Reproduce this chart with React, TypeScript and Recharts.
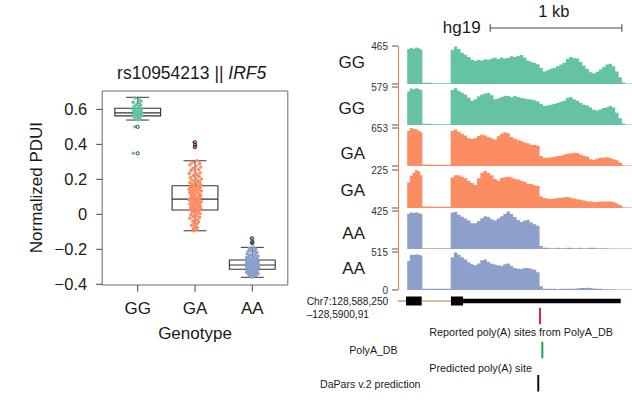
import React from 'react';
import {
  ComposedChart,
  AreaChart,
  Area,
  Scatter,
  Line,
  XAxis,
  YAxis,
  ReferenceArea,
  ReferenceLine,
} from 'recharts';

const FONT = '"Liberation Sans", Arial, Helvetica, sans-serif';
const INK = '#1a1a1a';

// ---- left panel: normalized PDUI by genotype ----
const GENOTYPES = ['GG', 'GA', 'AA'];
const GENO_COLORS = ['#66c2a5', '#fc8d62', '#8da0cb'];
const PDUI_TICKS = [-0.4, -0.2, 0, 0.2, 0.4, 0.6];

// [lower whisker, q1, median, q3, upper whisker]
const BOX_STATS = [
  [0.539, 0.563, 0.58, 0.606, 0.669],
  [-0.094, 0.025, 0.087, 0.163, 0.306],
  [-0.36, -0.314, -0.29, -0.261, -0.189],
];

const OUTLIERS = [
  [0.5, 0.349],
  [0.412, 0.398, 0.384],
  [-0.137, -0.157, -0.166],
];

// [jitter, PDUI]
const GG_POINTS = [
  [-0.04, 0.665], [0.02, 0.655], [0.06, 0.648], [-0.08, 0.64], [0.03, 0.635], [-0.02, 0.628],
  [0.05, 0.622], [-0.06, 0.618], [0.01, 0.612], [0.04, 0.607], [-0.09, 0.603], [0.03, 0.6],
  [-0.03, 0.597], [0.06, 0.593], [-0.07, 0.59], [0.0, 0.587], [0.05, 0.584], [-0.05, 0.581],
  [0.07, 0.578], [-0.01, 0.575], [0.03, 0.572], [-0.08, 0.569], [0.06, 0.566], [-0.04, 0.563],
  [0.02, 0.559], [-0.06, 0.555], [0.04, 0.549], [-0.02, 0.544], [0.01, 0.54], [-0.05, 0.5],
  [-0.077, 0.349],
];

const GA_POINTS = [
  [-0.02, 0.412], [0.01, 0.398], [-0.01, 0.384],
  [0.03, 0.306], [-0.05, 0.298], [0.08, 0.291], [-0.09, 0.284], [0.02, 0.277], [0.1, 0.27],
  [-0.04, 0.264], [0.06, 0.256], [-0.07, 0.25], [0.0, 0.244], [0.09, 0.238], [-0.1, 0.233],
  [0.04, 0.227], [-0.03, 0.222], [0.07, 0.216], [-0.08, 0.211], [0.01, 0.207], [0.11, 0.202],
  [-0.06, 0.198], [0.05, 0.193], [-0.01, 0.189], [0.08, 0.185], [-0.09, 0.181], [0.03, 0.177],
  [-0.05, 0.173], [0.1, 0.169],
  [-0.02, 0.164], [0.06, 0.161], [-0.08, 0.158], [0.02, 0.155], [0.09, 0.152], [-0.04, 0.149],
  [0.04, 0.146], [-0.1, 0.143], [0.07, 0.14], [-0.01, 0.137], [0.11, 0.134], [-0.06, 0.131],
  [0.03, 0.128], [-0.09, 0.125], [0.05, 0.122], [-0.03, 0.119], [0.08, 0.116], [-0.07, 0.113],
  [0.0, 0.11], [0.1, 0.107], [-0.05, 0.104], [0.06, 0.101], [-0.02, 0.098], [0.09, 0.095],
  [-0.08, 0.092],
  [0.02, 0.089], [-0.04, 0.086], [0.07, 0.083], [-0.1, 0.08], [0.04, 0.078], [-0.01, 0.075],
  [0.11, 0.072], [-0.06, 0.07], [0.01, 0.067], [0.08, 0.064], [-0.03, 0.062], [0.05, 0.059],
  [-0.09, 0.057], [0.03, 0.054], [-0.05, 0.051], [0.09, 0.049], [-0.02, 0.046], [0.06, 0.043],
  [-0.07, 0.041], [0.0, 0.038], [0.1, 0.035], [-0.04, 0.033], [0.04, 0.03], [-0.08, 0.027],
  [0.02, 0.023], [0.07, 0.019], [-0.05, 0.015], [0.05, 0.011], [-0.01, 0.007], [0.09, 0.003],
  [-0.07, -0.002], [0.03, -0.007], [-0.03, -0.012], [0.08, -0.017], [-0.09, -0.022], [0.01, -0.027],
  [0.05, -0.033], [-0.04, -0.038], [0.06, -0.044], [-0.02, -0.05], [0.03, -0.056], [-0.06, -0.062],
  [0.0, -0.068], [0.04, -0.075], [-0.03, -0.081], [0.02, -0.087], [-0.01, -0.094],
];

const AA_POINTS = [
  [-0.02, -0.137], [0.01, -0.157], [-0.01, -0.166],
  [0.02, -0.189], [-0.05, -0.194], [0.06, -0.199], [-0.03, -0.204], [0.04, -0.209], [-0.07, -0.213],
  [0.08, -0.218], [0.0, -0.222], [-0.09, -0.226], [0.05, -0.23], [-0.04, -0.234], [0.1, -0.238],
  [-0.06, -0.241], [0.03, -0.245], [-0.1, -0.248], [0.07, -0.251], [-0.02, -0.254], [0.09, -0.256],
  [-0.08, -0.258], [0.01, -0.26],
  [0.05, -0.262], [-0.05, -0.263], [0.11, -0.265], [-0.01, -0.266], [0.07, -0.268], [-0.09, -0.269],
  [0.03, -0.271], [-0.06, -0.272], [0.09, -0.274], [-0.03, -0.275], [0.0, -0.277], [-0.1, -0.278],
  [0.06, -0.28], [-0.04, -0.281], [0.1, -0.282], [-0.07, -0.284], [0.02, -0.285], [-0.02, -0.286],
  [0.08, -0.287], [-0.11, -0.288], [0.04, -0.289],
  [-0.05, -0.29], [0.06, -0.291], [-0.01, -0.292], [0.1, -0.293], [-0.08, -0.294], [0.02, -0.295],
  [-0.03, -0.296], [0.07, -0.297], [-0.1, -0.298], [0.04, -0.299], [-0.06, -0.3], [0.09, -0.301],
  [0.0, -0.302], [-0.04, -0.303], [0.05, -0.304], [-0.09, -0.305], [0.11, -0.306], [-0.02, -0.307],
  [0.03, -0.308], [-0.07, -0.309], [0.08, -0.31], [-0.05, -0.311], [0.01, -0.312], [0.06, -0.313],
  [-0.03, -0.315], [0.04, -0.317], [-0.08, -0.319], [0.09, -0.321], [-0.01, -0.323], [0.05, -0.325],
  [-0.06, -0.327], [0.02, -0.329], [-0.1, -0.331], [0.07, -0.333], [-0.04, -0.335], [0.0, -0.337],
  [0.1, -0.339], [-0.07, -0.341], [0.03, -0.344], [-0.02, -0.347], [0.06, -0.35], [-0.05, -0.353],
  [0.01, -0.356], [-0.01, -0.36],
];

const GENO_POINTS = [GG_POINTS, GA_POINTS, AA_POINTS];

// ---- right panel: RNA-seq coverage tracks (% of each track's scale) ----
const REGION_BP = 1841;
const TRACK_LABELS = ['GG', 'GG', 'GA', 'GA', 'AA', 'AA'];
const TRACK_MAX = [465, 579, 653, 225, 425, 515];
const TRACK_COLORS = ['#66c2a5', '#66c2a5', '#fc8d62', '#fc8d62', '#8da0cb', '#8da0cb'];

const POS = [
  0, 70, 90, 110, 130, 150, 170, 185, 260, 330,
  400, 425, 450, 475, 500, 525, 550, 575, 600, 625, 650, 675, 700, 725, 750, 775, 800, 825,
  850, 875, 900, 925, 950, 975, 1000, 1025, 1050, 1075, 1100, 1125, 1150, 1175, 1200, 1225,
  1250, 1275, 1300, 1325, 1350, 1375, 1400, 1425, 1450, 1475, 1500, 1525, 1550, 1575, 1600,
  1625, 1650, 1675, 1700, 1725, 1775, 1841,
];

const GG1_COV = [
  0, 92, 95, 93, 96, 94, 91, 3, 2, 2,
  90, 99, 92, 82, 77, 71, 64, 61, 63, 62, 65, 64, 67, 69, 66, 70, 67, 69, 73, 71,
  74, 76, 70, 62, 58, 55, 52, 42, 33, 36, 40, 42, 47, 51, 56, 66, 71, 68, 67, 58,
  48, 40, 31, 28, 32, 38, 45, 51, 53, 47, 33, 18, 4,
  1, 1, 0,
];
const GG2_COV = [
  0, 88, 96, 94, 97, 95, 92, 3, 2, 2,
  92, 97, 90, 85, 80, 72, 64, 68, 75, 80, 83, 84, 78, 68, 70, 74, 77, 76, 73, 76,
  74, 71, 70, 68, 67, 65, 62, 55, 50, 51, 53, 55, 58, 61, 64, 71, 74, 68, 64, 58,
  53, 51, 46, 40, 38, 41, 45, 47, 50, 46, 32, 18, 4,
  1, 1, 0,
];
const GA1_COV = [
  0, 92, 100, 98, 97, 92, 89, 4, 3, 3,
  92, 96, 90, 85, 80, 73, 71, 74, 79, 83, 80, 76, 73, 70, 78, 85, 89, 86, 76, 72,
  68, 66, 62, 60, 56, 55, 53, 26, 22, 22, 23, 24, 26, 27, 30, 32, 33, 35, 34, 30,
  27, 25, 18, 16, 20, 22, 22, 23, 21, 18, 15, 9, 2,
  1, 1, 0,
];
const GA2_COV = [
  0, 68, 85, 93, 100, 97, 86, 4, 3, 3,
  80, 86, 86, 82, 78, 72, 66, 61, 78, 93, 98, 92, 86, 76, 72, 79, 81, 82, 80, 77,
  75, 72, 69, 64, 63, 60, 58, 30, 26, 25, 24, 25, 26, 27, 28, 29, 27, 25, 23, 22,
  20, 18, 17, 16, 16, 17, 17, 17, 17, 16, 12, 8, 2,
  1, 1, 0,
];
const AA1_COV = [
  0, 93, 96, 95, 97, 94, 92, 2, 2, 2,
  96, 98, 90, 85, 80, 75, 68, 68, 74, 81, 86, 84, 78, 75, 80, 86, 93, 99, 92, 84,
  76, 71, 75, 77, 70, 65, 61, 8, 3, 3, 2, 2, 3, 2, 2, 3, 3, 2, 2, 3,
  2, 2, 3, 3, 2, 2, 2, 2, 1, 1, 1, 1, 1,
  1, 1, 0,
];
const AA2_COV = [
  0, 76, 93, 92, 94, 93, 91, 3, 3, 3,
  86, 99, 93, 86, 80, 73, 68, 65, 70, 78, 80, 74, 69, 67, 65, 64, 68, 70, 63, 58,
  56, 55, 58, 58, 56, 53, 47, 10, 3, 3, 3, 3, 2, 3, 3, 3, 3, 3, 4, 5,
  5, 6, 5, 4, 3, 3, 2, 2, 2, 2, 1, 1, 1,
  1, 1, 0,
];
const COVERAGE = [GG1_COV, GG2_COV, GA1_COV, GA2_COV, AA1_COV, AA2_COV];

// ---- gene model and poly(A) annotations (bp from region start) ----
const GENE_LEADER = [0, 61];
const GENE_EXONS = [[61, 180], [402, 494]];
const GENE_INTRON = [180, 402];
const GENE_UTR = [494, 1691];
const SCALE_BAR = [700, 1700];
const POLYA_SITES = [
  { track: 'reported', bp: 1078, color: '#d7263d' },
  { track: 'polyadb', bp: 1096, color: '#22a24a' },
  { track: 'dapars', bp: 1065, color: '#111111' },
];

// layout
const TRACK_TOP = 46;
const TRACK_STEP = 41.2;
const TRACK_H = 38;
const TRACK_LEFT = 398;
const BP_PX = 0.1317;
const ANNOT_TOP = 290;
const ANNOT_ROWS: Record<string, number> = { gene: 11, reported: 26, polyadb: 60, dapars: 93.3 };

const trackRows = POS.map((bp, j) => {
  const row: Record<string, number> = { bp };
  COVERAGE.forEach((cov, i) => {
    row['t' + i] = cov[j];
  });
  return row;
});

const fmtPdui = (v: number) => {
  if (v === 0) return '0';
  const s = Math.abs(v).toFixed(1);
  return v < 0 ? '\u2212' + s : s;
};

function BoxPanel() {
  return (
    <ComposedChart width={300} height={340} margin={{ top: 91, right: 12.2, bottom: 25, left: 42.2 }}>
      <XAxis
        type="number"
        dataKey="x"
        domain={[0.38, 3.62]}
        allowDataOverflow
        ticks={[1, 2, 3]}
        interval={0}
        tickFormatter={(v) => GENOTYPES[v - 1]}
        axisLine={false}
        tickLine={{ stroke: '#444' }}
        tickSize={6.7}
        tickMargin={10}
        height={30}
        tick={{ fontSize: 17, fill: INK, fontFamily: FONT }}
      />
      <YAxis
        type="number"
        dataKey="y"
        domain={[-0.404, 0.705]}
        allowDataOverflow
        ticks={PDUI_TICKS}
        interval={0}
        tickFormatter={fmtPdui}
        axisLine={false}
        tickLine={{ stroke: '#444' }}
        tickSize={6}
        tickMargin={9}
        width={60}
        tick={{ fontSize: 16.5, fill: INK, fontFamily: FONT }}
      />
      <ReferenceArea x1={0.38} x2={3.62} y1={-0.404} y2={0.705} fill="none" stroke="#6b6b6b" strokeWidth={1} ifOverflow="visible" />
      {BOX_STATS.map(([lo, q1, med, q3, hi], i) => {
        const g = i + 1;
        return (
          <React.Fragment key={GENOTYPES[i]}>
            <ReferenceLine segment={[{ x: g, y: lo }, { x: g, y: q1 }]} stroke="#333" strokeWidth={1} ifOverflow="visible" />
            <ReferenceLine segment={[{ x: g, y: q3 }, { x: g, y: hi }]} stroke="#333" strokeWidth={1} ifOverflow="visible" />
            <ReferenceLine segment={[{ x: g - 0.2, y: lo }, { x: g + 0.2, y: lo }]} stroke="#333" strokeWidth={1} ifOverflow="visible" />
            <ReferenceLine segment={[{ x: g - 0.2, y: hi }, { x: g + 0.2, y: hi }]} stroke="#333" strokeWidth={1} ifOverflow="visible" />
            <ReferenceArea x1={g - 0.4} x2={g + 0.4} y1={q1} y2={q3} fill="none" stroke="#333" strokeWidth={1.1} ifOverflow="visible" />
            <ReferenceLine segment={[{ x: g - 0.4, y: med }, { x: g + 0.4, y: med }]} stroke="#333" strokeWidth={1.1} ifOverflow="visible" />
          </React.Fragment>
        );
      })}
      {GENO_POINTS.map((pts, i) => (
        <Scatter
          key={'pts' + i}
          data={pts.map(([dx, y]) => ({ x: i + 1 + dx, y }))}
          isAnimationActive={false}
          shape={(p: any) => <circle cx={p.cx} cy={p.cy} r={1.75} fill={GENO_COLORS[i]} />}
        />
      ))}
      {OUTLIERS.map((vals, i) => (
        <Scatter
          key={'out' + i}
          data={vals.map((y) => ({ x: i + 1, y }))}
          isAnimationActive={false}
          shape={(p: any) => <circle cx={p.cx} cy={p.cy} r={1.6} fill="none" stroke="#222" strokeWidth={0.9} />}
        />
      ))}
    </ComposedChart>
  );
}

function Track({ i }: { i: number }) {
  const last = i === TRACK_MAX.length - 1;
  return (
    <div style={{ position: 'absolute', left: TRACK_LEFT - 40, top: TRACK_TOP + i * TRACK_STEP - 6 }}>
      <AreaChart width={40 + REGION_BP * BP_PX} height={TRACK_H + 12} data={trackRows} margin={{ top: 6, bottom: 6, left: 0, right: 0 }}>
        <XAxis type="number" dataKey="bp" domain={[0, REGION_BP]} allowDataOverflow hide />
        <YAxis
          type="number"
          domain={[0, 100]}
          allowDataOverflow
          ticks={[0, 100]}
          interval={0}
          width={40}
          axisLine={false}
          tickLine={{ stroke: '#555' }}
          tickSize={6}
          tickMargin={4}
          tick={{ fontSize: 10, fill: '#333', fontFamily: FONT }}
          tickFormatter={(v) => (v === 100 ? String(TRACK_MAX[i]) : last ? '0' : '')}
        />
        <Area
          type="stepAfter"
          dataKey={'t' + i}
          stroke="none"
          fill={TRACK_COLORS[i]}
          fillOpacity={1}
          isAnimationActive={false}
        />
      </AreaChart>
    </div>
  );
}

function Annotations() {
  const gy = ANNOT_ROWS.gene;
  const sites = POLYA_SITES.map((s) => ({ ...s, row: ANNOT_ROWS[s.track] }));
  return (
    <div style={{ position: 'absolute', left: TRACK_LEFT, top: ANNOT_TOP }}>
      <ComposedChart width={REGION_BP * BP_PX} height={105} data={sites} margin={{ top: 0, right: 0, bottom: 0, left: 0 }}>
        <XAxis type="number" dataKey="bp" domain={[0, REGION_BP]} allowDataOverflow hide />
        <YAxis type="number" dataKey="row" domain={[0, 105]} reversed allowDataOverflow hide />
        <ReferenceLine segment={[{ x: GENE_LEADER[0], y: gy }, { x: GENE_LEADER[1], y: gy }]} stroke="#8a8a8a" strokeWidth={1.2} ifOverflow="visible" />
        <ReferenceLine segment={[{ x: GENE_INTRON[0], y: gy }, { x: GENE_INTRON[1], y: gy }]} stroke="#c7b08a" strokeWidth={1.6} ifOverflow="visible" />
        {GENE_EXONS.map(([a, b]) => (
          <ReferenceArea key={a} x1={a} x2={b} y1={gy - 4.5} y2={gy + 4.5} fill="#000" fillOpacity={1} stroke="none" ifOverflow="visible" />
        ))}
        <ReferenceArea x1={GENE_UTR[0]} x2={GENE_UTR[1]} y1={gy - 2.2} y2={gy + 2.2} fill="#000" fillOpacity={1} stroke="none" ifOverflow="visible" />
        <Scatter
          dataKey="row"
          isAnimationActive={false}
          shape={(p: any) => (
            <line x1={p.cx} x2={p.cx} y1={p.cy - 8.2} y2={p.cy + 8.2} stroke={p.payload.color} strokeWidth={2} />
          )}
        />
      </ComposedChart>
    </div>
  );
}

function ScaleBar() {
  const data = SCALE_BAR.map((bp) => ({ bp, y: 0 }));
  return (
    <div style={{ position: 'absolute', left: TRACK_LEFT, top: 18 }}>
      <ComposedChart width={REGION_BP * BP_PX} height={20} data={data} margin={{ top: 0, right: 0, bottom: 0, left: 0 }}>
        <XAxis type="number" dataKey="bp" domain={[0, REGION_BP]} allowDataOverflow hide />
        <YAxis type="number" domain={[-1, 1]} allowDataOverflow hide />
        <Line
          dataKey="y"
          stroke="#444"
          strokeWidth={1}
          isAnimationActive={false}
          dot={(p: any) => <line key={p.index} x1={p.cx} x2={p.cx} y1={p.cy - 3.8} y2={p.cy + 3.8} stroke="#444" strokeWidth={1} />}
        />
      </ComposedChart>
    </div>
  );
}

export default function App() {
  const txt = { fontFamily: FONT, fill: INK } as const;
  const labelBaselines = [67.8, 114.4, 159.4, 196.1, 238.8, 274.4];
  return (
    <div style={{ position: 'fixed', left: 0, top: 0, width: 632, height: 405, overflow: 'hidden', background: '#fff' }}>
      <div style={{ position: 'absolute', left: 0, top: 0 }}>
        <BoxPanel />
      </div>
      {TRACK_MAX.map((_, i) => (
        <Track key={i} i={i} />
      ))}
      <div style={{ position: 'absolute', left: TRACK_LEFT - 0.5, top: TRACK_TOP, width: 1.2, height: 244, background: '#f47c4c' }} />
      <ScaleBar />
      <Annotations />
      <svg width={632} height={405} style={{ position: 'absolute', left: 0, top: 0, pointerEvents: 'none' }}>
        <text x={191.7} y={78.5} textAnchor="middle" fontSize={17.5} {...txt}>
          rs10954213 || <tspan fontStyle="italic">IRF5</tspan>
        </text>
        <text transform="translate(41.7,187.6) rotate(-90)" textAnchor="middle" fontSize={17} {...txt}>
          Normalized PDUI
        </text>
        <text x={195} y={339} textAnchor="middle" fontSize={17} {...txt}>
          Genotype
        </text>
        {TRACK_LABELS.map((lab, i) => (
          <text key={i} x={365} y={labelBaselines[i]} textAnchor="end" fontSize={17} {...txt}>
            {lab}
          </text>
        ))}
        <text x={480.7} y={33} textAnchor="end" fontSize={17} {...txt}>hg19</text>
        <text x={553.8} y={16.5} textAnchor="middle" fontSize={16.5} {...txt}>1 kb</text>
        <text x={306.7} y={305} fontSize={10.2} {...txt}>Chr7:128,588,250</text>
        <text x={306.7} y={318.3} fontSize={10.2} {...txt}>–128,5900,91</text>
        <text x={429.3} y={336} fontSize={10.8} {...txt}>Reported poly(A) sites from PolyA_DB</text>
        <text x={349.3} y={353.5} fontSize={10.6} {...txt}>PolyA_DB</text>
        <text x={429.3} y={372.3} fontSize={10.8} {...txt}>Predicted poly(A) site</text>
        <text x={320} y={387.7} fontSize={10.6} {...txt}>DaPars v.2 prediction</text>
      </svg>
    </div>
  );
}
